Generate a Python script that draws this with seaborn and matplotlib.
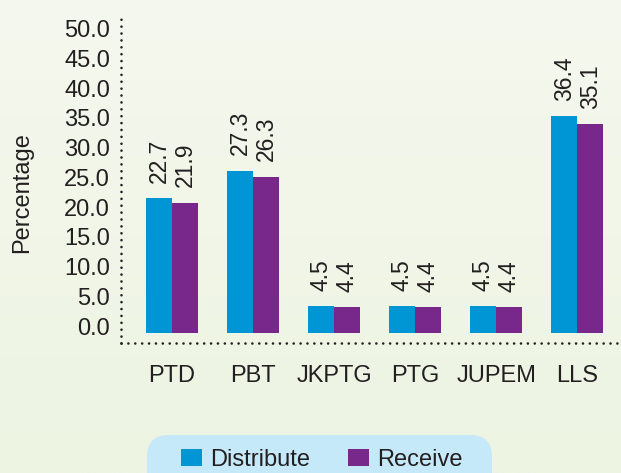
import numpy as np
import pandas as pd
import seaborn as sns
import matplotlib.pyplot as plt
from matplotlib.patches import FancyBboxPatch
from matplotlib.transforms import ScaledTranslation

# Data
agencies = ["PTD", "PBT", "JKPTG", "PTG", "JUPEM", "LLS"]
distribute = [22.7, 27.3, 4.5, 4.5, 4.5, 36.4]
receive = [21.9, 26.3, 4.4, 4.4, 4.4, 35.1]
series = ["Distribute", "Receive"]
yticks = [0, 5, 10, 15, 20, 25, 30, 35, 40, 45, 50]

df = pd.DataFrame({
    "Agency": agencies * 2,
    "Value": distribute + receive,
    "Series": [series[0]] * len(agencies) + [series[1]] * len(agencies),
})

blue = "#0096d6"
purple = "#78278b"
txt = "#231f20"

sns.set_theme(style="white")
plt.rcParams["font.family"] = ["Liberation Sans", "DejaVu Sans"]

W, H = 621, 473
fig = plt.figure(figsize=(W / 100, H / 100), dpi=100)

# soft greenish gradient background
bg = fig.add_axes([0, 0, 1, 1], zorder=-10)
grad = np.linspace(0, 1, 256).reshape(-1, 1)
top_c = np.array([245, 248, 238]) / 255
bot_c = np.array([237, 244, 226]) / 255
img = top_c + (bot_c - top_c) * grad[:, :, None]
bg.imshow(img, aspect="auto", extent=[0, 1, 0, 1])
bg.axis("off")

ax = fig.add_axes([121 / W, (H - 343) / H, (617 - 121) / W, (343 - 13) / H])
ax.patch.set_alpha(0)

sns.barplot(data=df, x="Agency", y="Value", hue="Series", ax=ax,
            palette=[blue, purple], saturation=1, width=0.64,
            legend=True, errorbar=None, linewidth=0)

for cont in ax.containers:
    ax.bar_label(cont, fmt="%.1f", rotation=90, padding=11,
                 fontsize=16.5, color=txt)

ax.set_xlim(-0.63, 5.49)
ax.set_ylim(-1.68, 53.8)
ax.set_yticks(yticks)
ax.set_yticklabels([f"{v:.1f}" for v in yticks])
ax.set_xlabel("")
ax.set_ylabel("Percentage", fontsize=17, color=txt)
ax.yaxis.set_label_coords(-0.177, 0.4545)
ax.tick_params(axis="y", length=0, pad=8, labelsize=17, labelcolor=txt)
ax.tick_params(axis="x", length=0, pad=16, labelsize=17, labelcolor=txt)

for s in ["top", "right"]:
    ax.spines[s].set_visible(False)
for s in ["left", "bottom"]:
    ax.spines[s].set_linestyle((0, (0.01, 2.6)))
    ax.spines[s].set_linewidth(1.9)
    ax.spines[s].set_color("#231f20")
    ax.spines[s].set_capstyle("round")

# legend: rounded light-blue box at the bottom
box = FancyBboxPatch((147 / W, -0.1), 345 / W, (H - 435) / H + 0.1,
                     boxstyle="round,pad=0,rounding_size=0.035",
                     mutation_aspect=W / H, transform=fig.transFigure,
                     facecolor="#c5e9f8", edgecolor="none", zorder=0)
fig.patches.append(box)

handles, labels = ax.get_legend_handles_labels()
ax.get_legend().remove()
fig.legend(handles, labels, loc="center", ncol=2, frameon=False,
           bbox_to_anchor=(321.5 / W, 13.5 / H), fontsize=17,
           handlelength=0.89, handleheight=0.72, handletextpad=0.34,
           columnspacing=1.6, borderpad=0, labelcolor=txt)

# y tick labels sit a little above their gridline in the original
for lab in ax.get_yticklabels():
    lab.set_transform(lab.get_transform() + ScaledTranslation(0, 0.07, fig.dpi_scale_trans))

fig.savefig("out.png", dpi=100)
